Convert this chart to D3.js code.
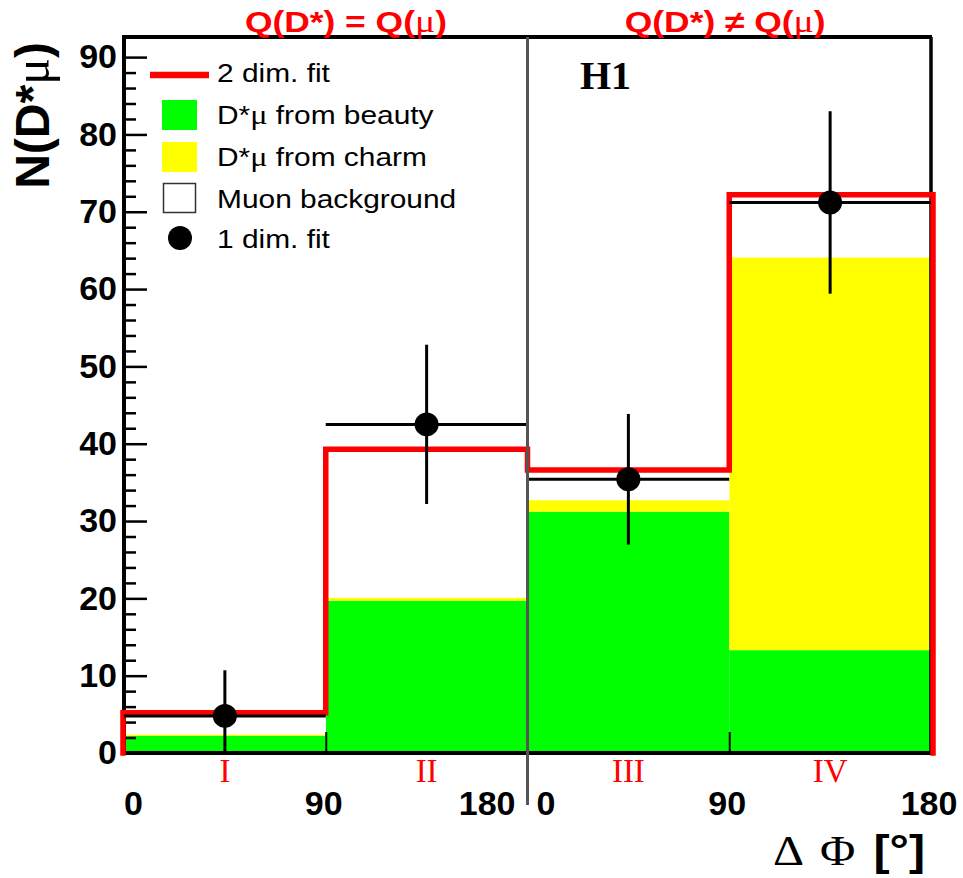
<!DOCTYPE html>
<html><head><meta charset="utf-8">
<script src="https://cdn.jsdelivr.net/npm/d3@7"></script>
<style>
html,body{margin:0;padding:0;background:#fff;}
svg{display:block;}
</style></head>
<body>
<svg id="chart" width="963" height="878" font-family="Liberation Sans, Arial, sans-serif"></svg>
<script>
// ---- data ----
const bins = ["I", "II", "III", "IV"];
const beauty = [2.2, 19.7, 31.2, 13.3];        // D*mu from beauty
const charm = [0.2, 0.4, 1.5, 50.8];           // D*mu from charm
const muonBkg = [2.8, 19.2, 3.9, 8.1];         // muon background
const fit2d = [5.2, 39.3, 36.6, 72.2];         // 2 dim. fit (total)
const fit1d = [4.8, 42.5, 35.4, 71.2];         // 1 dim. fit points
const fit1dErr = [5.9, 10.3, 8.45, 11.8];
const yTicks = [0, 10, 20, 30, 40, 50, 60, 70, 80, 90];
const xTickLabels = ["0", "90", "180", "0", "90", "180"];
const xTickEdges = [0, 1, 2, 2, 3, 4];
const regionLabels = ["Q(D*) = Q(", "Q(D*) \u2260 Q("];
const legendItems = ["2 dim. fit", "D*|\u03bc| from beauty", "D*|\u03bc| from charm", "Muon background", "1 dim. fit"];

const SERIF = "Liberation Serif, Times New Roman, serif";
const svg = d3.select("#chart");
const x = d3.scaleLinear().domain([0, 4]).range([124, 931]);
const y = d3.scaleLinear().domain([0, 92.6]).range([753, 37]);

const colBeauty = "#00ff00", colCharm = "#ffff00", colRed = "#ff0000";

// stacked fills
const stackData = bins.map((b, i) => ({i, beauty: beauty[i], charm: charm[i], bkg: muonBkg[i]}));
const stack = d3.stack().keys(["beauty", "charm", "bkg"])(stackData);
const fills = {beauty: colBeauty, charm: colCharm, bkg: "#ffffff"};
stack.forEach(layer => {
  svg.append("g").selectAll("rect").data(layer).join("rect")
    .attr("x", d => x(d.data.i))
    .attr("width", x(1) - x(0))
    .attr("y", d => y(d[1]))
    .attr("height", d => y(d[0]) - y(d[1]))
    .attr("fill", fills[layer.key]);
});

// frame
const frame = svg.append("g").attr("stroke", "#000").attr("fill", "none");
frame.append("line").attr("x1", x(0)).attr("x2", x(4) + 1).attr("y1", y.range()[1]).attr("y2", y.range()[1]).attr("stroke-width", 4);
frame.append("line").attr("x1", x(4)).attr("x2", x(4)).attr("y1", y.range()[1]).attr("y2", y(0)).attr("stroke-width", 3.5);

// y axis (major + minor ticks inside)
const minor = d3.range(0, 92, 2).filter(v => v % 10 !== 0);
const yMinor = svg.append("g").attr("transform", `translate(${x(0)},0)`)
  .call(d3.axisLeft(y).tickValues(minor).tickSize(-12).tickFormat(""));
const yAx = svg.append("g").attr("transform", `translate(${x(0)},0)`)
  .call(d3.axisLeft(y).tickValues(yTicks).tickSize(-23).tickPadding(7).tickFormat(d3.format("d")));
[yMinor, yAx].forEach(g => {
  g.select(".domain").remove();
  g.attr("font-family", null).attr("font-size", null);
  g.selectAll(".tick line").attr("stroke", "#000").attr("stroke-width", 2.5);
});
yAx.selectAll(".tick text").attr("font-size", 34).attr("font-weight", "bold").attr("fill", "#000");
frame.append("line").attr("x1", x(0)).attr("x2", x(0)).attr("y1", y.range()[1] - 2).attr("y2", y(0) + 2).attr("stroke-width", 4);

// x axis
const xAx = svg.append("g").attr("transform", `translate(0,${y(0)})`)
  .call(d3.axisBottom(x).tickValues([1, 3]).tickSize(-21).tickFormat(""));
xAx.select(".domain").remove();
xAx.selectAll(".tick line").attr("stroke", "#000").attr("stroke-width", 2);
frame.append("line").attr("x1", x(0) - 2).attr("x2", x(4) + 1).attr("y1", y(0)).attr("y2", y(0)).attr("stroke-width", 4);

const xOff = [[0, "start"], [-2, "middle"], [-12, "end"], [9, "start"], [-2, "middle"], [-2, "middle"]];
svg.append("g").selectAll("text").data(xTickLabels).join("text")
  .attr("x", (d, i) => x(xTickEdges[i]) + xOff[i][0])
  .attr("y", 815)
  .attr("text-anchor", (d, i) => xOff[i][1])
  .attr("font-size", 34).attr("font-weight", "bold")
  .text(d => d);

// region numerals
svg.append("g").selectAll("text").data(bins).join("text")
  .attr("x", (d, i) => x(i + 0.5))
  .attr("y", 782)
  .attr("text-anchor", "middle")
  .attr("font-family", SERIF)
  .attr("font-size", 33).attr("fill", colRed)
  .text(d => d);

// 2 dim fit (red histogram outline)
const redPath = d3.path();
redPath.moveTo(x(0) - 1, y(0));
fit2d.forEach((v, i) => { redPath.lineTo(x(i) - (i === 0 ? 1 : 0), y(v)); redPath.lineTo(x(i + 1) + (i === 3 ? 2 : 0), y(v)); });
redPath.lineTo(x(4) + 2, y(0));
svg.append("path").attr("d", redPath.toString()).attr("fill", "none")
  .attr("stroke", colRed).attr("stroke-width", 5.5).attr("stroke-linejoin", "miter").attr("stroke-linecap", "square");

// 1 dim fit points with errors
const pts = svg.append("g").attr("stroke", "#000").attr("stroke-width", 3);
fit1d.forEach((v, i) => {
  pts.append("line").attr("x1", x(i)).attr("x2", x(i + 1)).attr("y1", y(v)).attr("y2", y(v));
  pts.append("line").attr("x1", x(i + 0.5)).attr("x2", x(i + 0.5))
    .attr("y1", y(v + fit1dErr[i])).attr("y2", y(Math.max(0, v - fit1dErr[i])));
});
svg.append("g").selectAll("circle").data(fit1d).join("circle")
  .attr("cx", (d, i) => x(i + 0.5)).attr("cy", d => y(d)).attr("r", 12).attr("fill", "#000");

// divider
svg.append("line").attr("x1", x(2)).attr("x2", x(2)).attr("y1", y.range()[1]).attr("y2", 805)
  .attr("stroke", "#555").attr("stroke-width", 3);

// region headers
const hdrX = [x(1.1), x(2.98)];
regionLabels.forEach((t, i) => {
  const tx = svg.append("text").attr("text-anchor", "middle")
    .attr("transform", `translate(${hdrX[i]},32) scale(1.18,1)`)
    .attr("font-size", 30).attr("font-weight", "bold").attr("fill", colRed);
  tx.append("tspan").text(t);
  tx.append("tspan").attr("font-family", SERIF).attr("font-weight", "normal").attr("font-size", 32).text("\u03bc");
  tx.append("tspan").text(")");
});

// H1
svg.append("text").attr("x", x(2.26)).attr("y", 89).attr("font-family", SERIF)
  .attr("font-weight", "bold").attr("font-size", 40).text("H1");

// y title
const yt = svg.append("text").attr("transform", `translate(49,42) rotate(-90)`).attr("text-anchor", "end")
  .attr("font-size", 48).attr("font-weight", "bold");
yt.append("tspan").text("N(D*");
yt.append("tspan").attr("font-family", SERIF).attr("font-weight", "normal").attr("font-size", 50).text("\u03bc");
yt.append("tspan").text(")");

// x title
const xTitle = svg.append("g").attr("font-size", 42);
xTitle.append("text").attr("transform", `translate(${x(4) - 158},865) scale(1.15,1)`).attr("font-family", SERIF).text("\u0394");
xTitle.append("text").attr("transform", `translate(${x(4) - 111},865) scale(1.15,1)`).attr("font-family", SERIF).text("\u03a6");
xTitle.append("text").attr("transform", `translate(${x(4) - 6},865) scale(1.15,1)`).attr("text-anchor", "end").attr("font-weight", "bold").text("[\u00b0]");

// legend
const lg = svg.append("g");
const rowY = [82, 124, 166, 208, 248];
legendItems.forEach((t, i) => {
  const tx = lg.append("text").attr("transform", `translate(217,${rowY[i]}) scale(1.15,1)`).attr("font-size", 26).attr("fill", "#000");
  t.split("|").forEach(part => {
    const sp = tx.append("tspan").text(part);
    if (part === "\u03bc") sp.attr("font-family", SERIF).attr("font-size", 28);
  });
});
lg.append("line").attr("x1", 150).attr("x2", 209).attr("y1", 75).attr("y2", 75).attr("stroke", colRed).attr("stroke-width", 6.5);
lg.append("rect").attr("x", 162).attr("y", 100).attr("width", 35).attr("height", 30).attr("fill", colBeauty);
lg.append("rect").attr("x", 162).attr("y", 142).attr("width", 35).attr("height", 30).attr("fill", colCharm);
lg.append("rect").attr("x", 163.5).attr("y", 183.5).attr("width", 32).attr("height", 29).attr("fill", "#fff").attr("stroke", "#333").attr("stroke-width", 1.5);
lg.append("circle").attr("cx", 180).attr("cy", 238).attr("r", 12).attr("fill", "#000");
</script>
</body></html>
